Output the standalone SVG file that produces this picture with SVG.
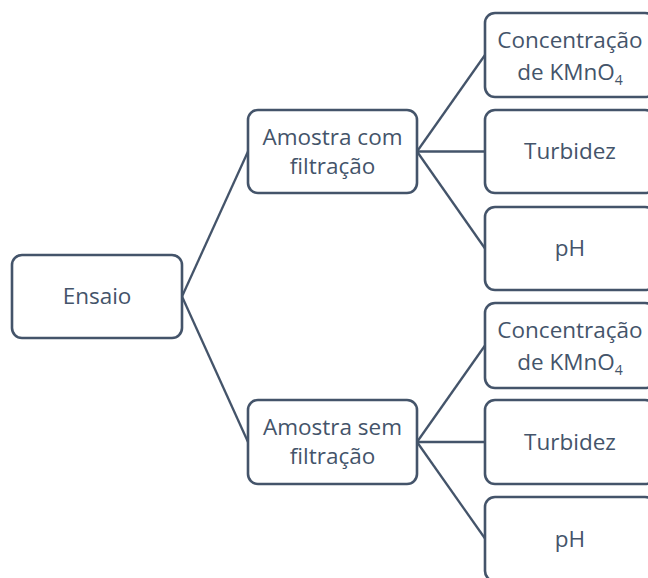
<svg xmlns="http://www.w3.org/2000/svg" width="648" height="578" viewBox="0 0 648 578">
<style>
.box{fill:#fff;stroke:#44546A;stroke-width:2.6}
.lbl{font-family:"Open Sans","Liberation Sans",sans-serif;font-size:22.5px;fill:#44546A;text-anchor:middle}
.sub{font-size:14px}
.conn line{stroke:#44546A;stroke-width:2.3}
</style>
<rect width="648" height="578" fill="#fff"/>
<g class="conn" id="connectors">
<line x1="182" y1="296.5" x2="248" y2="151.5"/>
<line x1="182" y1="296.5" x2="248" y2="442"/>
<line x1="417" y1="151.5" x2="485" y2="55"/>
<line x1="417" y1="151.5" x2="485" y2="151.5"/>
<line x1="417" y1="151.5" x2="485" y2="248.5"/>
<line x1="417" y1="442" x2="485" y2="345.5"/>
<line x1="417" y1="442" x2="485" y2="442"/>
<line x1="417" y1="442" x2="485" y2="538.5"/>
</g>
<g id="ensaio"><rect class="box" x="12" y="255" width="170" height="83" rx="10"/><text class="lbl" x="97" y="304">Ensaio</text></g>
<g id="amostra-com"><rect class="box" x="248" y="110" width="169" height="83" rx="10"/><text class="lbl" x="332.5" y="145">Amostra com</text><text class="lbl" x="332.5" y="174">filtração</text></g>
<g id="amostra-sem"><rect class="box" x="248" y="400" width="169" height="84" rx="10"/><text class="lbl" x="332.5" y="435">Amostra sem</text><text class="lbl" x="332.5" y="464">filtração</text></g>
<g id="conc1"><rect class="box" x="485" y="13" width="170" height="84" rx="10"/><text class="lbl" x="570" y="48">Concentração</text><text class="lbl" x="570" y="80">de KMnO<tspan class="sub" dy="5">4</tspan></text></g>
<g id="turb1"><rect class="box" x="485" y="110" width="170" height="83" rx="10"/><text class="lbl" x="570" y="159">Turbidez</text></g>
<g id="ph1"><rect class="box" x="485" y="207" width="170" height="83" rx="10"/><text class="lbl" x="570" y="256">pH</text></g>
<g id="conc2"><rect class="box" x="485" y="303" width="170" height="85" rx="10"/><text class="lbl" x="570" y="338">Concentração</text><text class="lbl" x="570" y="370">de KMnO<tspan class="sub" dy="5">4</tspan></text></g>
<g id="turb2"><rect class="box" x="485" y="400" width="170" height="84" rx="10"/><text class="lbl" x="570" y="450">Turbidez</text></g>
<g id="ph2"><rect class="box" x="485" y="497" width="170" height="84" rx="10"/><text class="lbl" x="570" y="547">pH</text></g>
</svg>
